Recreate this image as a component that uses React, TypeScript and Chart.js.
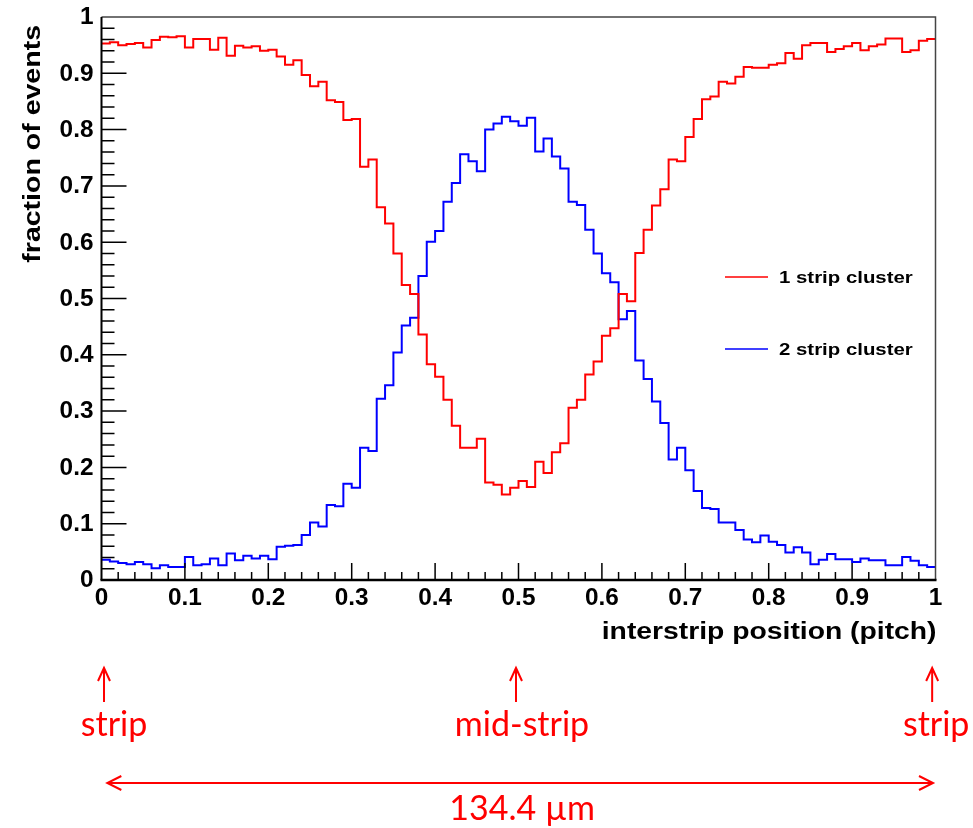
import { useEffect, useRef } from 'react';
import { Chart, registerables } from 'chart.js';

Chart.register(...registerables);

// ---- data (100 bins over the interstrip position 0..1) ----
const ONE_STRIP = [
  0.953, 0.955, 0.950, 0.952, 0.954, 0.946, 0.959, 0.965, 0.964, 0.966,
  0.946, 0.961, 0.961, 0.942, 0.963, 0.931, 0.949, 0.946, 0.948, 0.940,
  0.942, 0.930, 0.915, 0.923, 0.897, 0.877, 0.885, 0.852, 0.849, 0.817,
  0.819, 0.734, 0.747, 0.662, 0.633, 0.580, 0.524, 0.508, 0.436, 0.383,
  0.361, 0.320, 0.274, 0.235, 0.235, 0.251, 0.173, 0.169, 0.152, 0.164,
  0.176, 0.165, 0.210, 0.190, 0.227, 0.243, 0.306, 0.320, 0.365, 0.388,
  0.434, 0.447, 0.508, 0.495, 0.581, 0.622, 0.665, 0.694, 0.747, 0.744,
  0.787, 0.819, 0.854, 0.859, 0.885, 0.882, 0.894, 0.911, 0.910, 0.910,
  0.915, 0.918, 0.936, 0.926, 0.950, 0.954, 0.954, 0.938, 0.943, 0.948,
  0.954, 0.941, 0.948, 0.951, 0.962, 0.962, 0.938, 0.941, 0.958, 0.961,
];

const TWO_STRIP = [
  0.036, 0.033, 0.030, 0.028, 0.032, 0.028, 0.021, 0.026, 0.023, 0.023,
  0.041, 0.026, 0.028, 0.038, 0.026, 0.047, 0.035, 0.043, 0.038, 0.043,
  0.037, 0.059, 0.061, 0.062, 0.080, 0.102, 0.095, 0.133, 0.131, 0.171,
  0.164, 0.235, 0.229, 0.322, 0.346, 0.404, 0.452, 0.466, 0.540, 0.601,
  0.620, 0.672, 0.705, 0.756, 0.744, 0.726, 0.800, 0.811, 0.823, 0.815,
  0.807, 0.821, 0.761, 0.784, 0.752, 0.731, 0.672, 0.666, 0.622, 0.580,
  0.545, 0.529, 0.463, 0.478, 0.390, 0.357, 0.317, 0.279, 0.214, 0.235,
  0.195, 0.158, 0.128, 0.126, 0.102, 0.102, 0.089, 0.072, 0.067, 0.079,
  0.068, 0.062, 0.049, 0.058, 0.049, 0.028, 0.036, 0.046, 0.037, 0.037,
  0.032, 0.038, 0.035, 0.035, 0.026, 0.026, 0.041, 0.034, 0.026, 0.023,
];

const SERIES_LABELS = ['1 strip cluster', '2 strip cluster'];
const SERIES_COLORS = ['#ff0000', '#0000ff'];

const X_TICKS = [0, 0.1, 0.2, 0.3, 0.4, 0.5, 0.6, 0.7, 0.8, 0.9, 1];
const X_TICK_LABELS = ['0', '0.1', '0.2', '0.3', '0.4', '0.5', '0.6', '0.7', '0.8', '0.9', '1'];
const Y_TICKS = [0, 0.1, 0.2, 0.3, 0.4, 0.5, 0.6, 0.7, 0.8, 0.9, 1];
const Y_TICK_LABELS = ['0', '0.1', '0.2', '0.3', '0.4', '0.5', '0.6', '0.7', '0.8', '0.9', '1'];
const MINOR_DIVISIONS = 5;

const X_TITLE = 'interstrip position (pitch)';
const Y_TITLE = 'fraction of events';

const MARKER_POSITIONS = [0.003, 0.497, 0.996];
const MARKER_LABELS = ['strip', 'mid-strip', 'strip'];
const SPAN_FROM = 0.007;
const SPAN_TO = 0.997;
const SPAN_LABEL = '134.4 µm';

// ---- styling / layout constants ----
const W = 973;
const H = 828;
const ROOT_FONT = '"Liberation Sans", Arial, Helvetica, sans-serif';
const NOTE_FONT = 'Lato, "Open Sans", sans-serif';
const NOTE_RED = '#ff0000';

function toSteps(values: number[]) {
  const n = values.length;
  const pts = values.map((v, i) => ({ x: i / n, y: v }));
  pts.push({ x: 1, y: values[n - 1] });
  return pts;
}

function stretchedText(
  ctx: CanvasRenderingContext2D,
  text: string,
  x: number,
  y: number,
  font: string,
  align: CanvasTextAlign,
  baseline: CanvasTextBaseline,
  sx: number,
  rotate = 0,
  color = '#000'
) {
  ctx.save();
  ctx.translate(x, y);
  if (rotate) ctx.rotate(rotate);
  ctx.scale(sx, 1);
  ctx.font = font;
  ctx.fillStyle = color;
  ctx.textAlign = align;
  ctx.textBaseline = baseline;
  ctx.fillText(text, 0, 0);
  ctx.restore();
}

function upArrow(ctx: CanvasRenderingContext2D, x: number, yTip: number, yEnd: number) {
  ctx.beginPath();
  ctx.moveTo(x, yEnd);
  ctx.lineTo(x, yTip);
  ctx.moveTo(x - 6, yTip + 13);
  ctx.lineTo(x, yTip);
  ctx.lineTo(x + 6, yTip + 13);
  ctx.stroke();
}

const framePlugin = {
  id: 'rootFrame',
  afterDatasetsDraw(chart: any) {
    const ctx: CanvasRenderingContext2D = chart.ctx;
    const xs = chart.scales.x;
    const ys = chart.scales.y;
    const { left, right, top, bottom } = chart.chartArea;

    ctx.save();
    // frame top/right
    ctx.strokeStyle = '#444';
    ctx.lineWidth = 1.5;
    ctx.beginPath();
    ctx.moveTo(left, top);
    ctx.lineTo(right, top);
    ctx.lineTo(right, bottom);
    ctx.stroke();

    // axes
    ctx.strokeStyle = '#000';
    ctx.lineWidth = 2;
    ctx.beginPath();
    ctx.moveTo(left, top);
    ctx.lineTo(left, bottom);
    ctx.stroke();
    ctx.lineWidth = 2.5;
    ctx.beginPath();
    ctx.moveTo(left - 1, bottom);
    ctx.lineTo(right + 1, bottom);
    ctx.stroke();

    // y ticks (inside)
    ctx.lineWidth = 1.5;
    ctx.beginPath();
    for (let i = 0; i < Y_TICKS.length - 1; i++) {
      const a = Y_TICKS[i];
      const b = Y_TICKS[i + 1];
      for (let k = 0; k < MINOR_DIVISIONS; k++) {
        const v = a + ((b - a) * k) / MINOR_DIVISIONS;
        const py = ys.getPixelForValue(v);
        const len = k === 0 ? 25 : 13;
        if (i === 0 && k === 0) continue;
        ctx.moveTo(left, py);
        ctx.lineTo(left + len, py);
      }
    }
    // x ticks (inside)
    for (let i = 0; i < X_TICKS.length - 1; i++) {
      const a = X_TICKS[i];
      const b = X_TICKS[i + 1];
      for (let k = 0; k < MINOR_DIVISIONS; k++) {
        const v = a + ((b - a) * k) / MINOR_DIVISIONS;
        const px = xs.getPixelForValue(v);
        const len = k === 0 ? 17 : 8;
        if (i === 0 && k === 0) continue;
        ctx.moveTo(px, bottom);
        ctx.lineTo(px, bottom - len);
      }
    }
    ctx.stroke();

    // tick labels
    const tickFont = `bold 23px ${ROOT_FONT}`;
    Y_TICKS.forEach((v, i) => {
      stretchedText(ctx, Y_TICK_LABELS[i], left - 8, ys.getPixelForValue(v) + 1, tickFont, 'right', 'middle', 1.06);
    });
    X_TICKS.forEach((v, i) => {
      stretchedText(ctx, X_TICK_LABELS[i], xs.getPixelForValue(v), bottom + 25, tickFont, 'center', 'alphabetic', 1.06);
    });

    // axis titles
    const titleFont = `bold 23px ${ROOT_FONT}`;
    stretchedText(ctx, X_TITLE, right + 1, bottom + 59, titleFont, 'right', 'alphabetic', 1.23);
    stretchedText(ctx, Y_TITLE, 40, top + 8, `bold 23px ${ROOT_FONT}`, 'right', 'alphabetic', 1.24, -Math.PI / 2);

    // legend
    const legendY = [277, 349];
    SERIES_LABELS.forEach((lab, i) => {
      ctx.strokeStyle = SERIES_COLORS[i];
      ctx.lineWidth = 1.5;
      ctx.beginPath();
      ctx.moveTo(725, legendY[i]);
      ctx.lineTo(768, legendY[i]);
      ctx.stroke();
      stretchedText(ctx, lab, 779, legendY[i] + 1, `bold 17px ${ROOT_FONT}`, 'left', 'middle', 1.2);
    });

    // annotations below the plot
    ctx.strokeStyle = NOTE_RED;
    ctx.lineWidth = 2;
    MARKER_POSITIONS.forEach((v) => upArrow(ctx, xs.getPixelForValue(v), 668, 702));
    const noteFont = `34px ${NOTE_FONT}`;
    const labelX = [xs.getPixelForValue(MARKER_POSITIONS[0]) + 10, xs.getPixelForValue(MARKER_POSITIONS[1]) + 6, xs.getPixelForValue(MARKER_POSITIONS[2]) + 4];
    MARKER_LABELS.forEach((lab, i) => {
      stretchedText(ctx, lab, labelX[i], 736, noteFont, 'center', 'alphabetic', 1, 0, NOTE_RED);
    });
    const x0 = xs.getPixelForValue(SPAN_FROM);
    const x1 = xs.getPixelForValue(SPAN_TO);
    const ay = 783;
    ctx.beginPath();
    ctx.moveTo(x0, ay);
    ctx.lineTo(x1, ay);
    ctx.moveTo(x0 + 14, ay - 7);
    ctx.lineTo(x0, ay);
    ctx.lineTo(x0 + 14, ay + 7);
    ctx.moveTo(x1 - 14, ay - 7);
    ctx.lineTo(x1, ay);
    ctx.lineTo(x1 - 14, ay + 7);
    ctx.stroke();
    stretchedText(ctx, SPAN_LABEL, (x0 + x1) / 2 + 2, 820, noteFont, 'center', 'alphabetic', 1, 0, NOTE_RED);

    ctx.restore();
  },
};

export default function App() {
  const ref = useRef<HTMLCanvasElement>(null);
  useEffect(() => {
    if (!ref.current) return;
    const chart = new Chart(ref.current, {
      type: 'line',
      data: {
        datasets: [
          {
            label: SERIES_LABELS[0],
            data: toSteps(ONE_STRIP),
            borderColor: SERIES_COLORS[0],
            borderWidth: 2,
            pointRadius: 0,
            stepped: true,
            fill: false,
          },
          {
            label: SERIES_LABELS[1],
            data: toSteps(TWO_STRIP),
            borderColor: SERIES_COLORS[1],
            borderWidth: 2,
            pointRadius: 0,
            stepped: true,
            fill: false,
          },
        ],
      },
      options: {
        animation: false,
        responsive: false,
        devicePixelRatio: 1,
        parsing: false,
        layout: { padding: { left: 101.5, right: W - 935.5, top: 17, bottom: H - 580 } },
        scales: {
          x: { type: 'linear', min: 0, max: 1, display: false },
          y: { type: 'linear', min: 0, max: 1, display: false },
        },
        plugins: { legend: { display: false }, tooltip: { enabled: false } },
      },
      plugins: [framePlugin],
    });
    return () => chart.destroy();
  }, []);
  return (
    <div style={{ position: 'absolute', left: 0, top: 0, width: W, height: H, background: '#fff' }}>
      <canvas ref={ref} width={W} height={H} style={{ width: W, height: H, display: 'block' }} />
    </div>
  );
}
